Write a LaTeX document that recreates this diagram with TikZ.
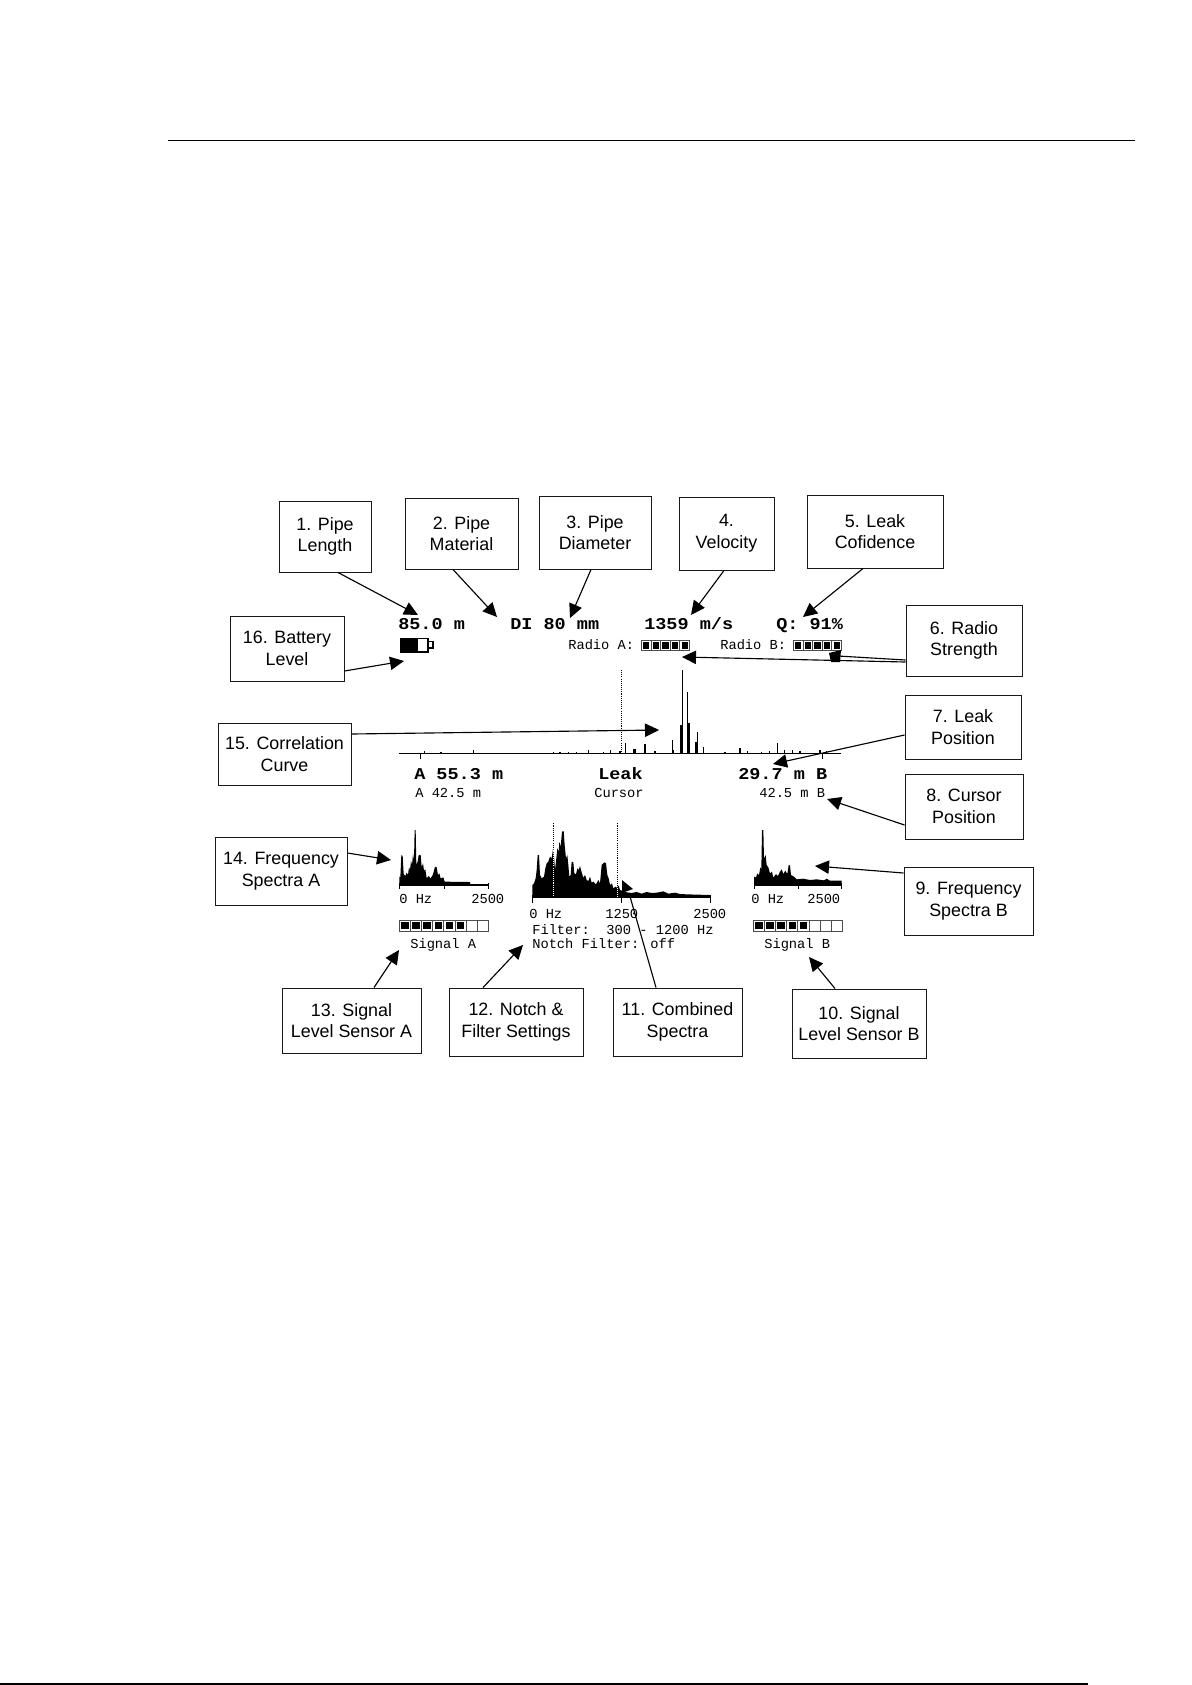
\documentclass[tikz,border=0pt]{standalone}
\usepackage{fontspec}
\usetikzlibrary{arrows.meta}
\setmainfont{Liberation Sans}
\newfontfamily\lcdb[FakeStretch=1.12,UprightFont=* Bold]{Liberation Mono}
\newfontfamily\lcdr{Liberation Mono}
\tikzset{
  boxlab/.style 2 args={draw=black!90,line width=.75pt,inner sep=0pt,align=center,
     minimum width=#1*.75pt,minimum height=#2*.75pt,
     font=\fontsize{13.4pt}{16.3pt}\selectfont},
  sx/.style={xshift=#1*.75pt},
  sy/.style={yshift=#1*.75pt},
  callout/.style={draw=black,line width=.85pt,-{Triangle[length=10.5pt,width=10pt]}},
  plain/.style={draw=black,line width=.85pt},
  big/.style={anchor=base west,inner sep=0pt,font=\lcdb\fontsize{12.4pt}{14pt}\selectfont},
  small/.style={anchor=base west,inner sep=0pt,font=\lcdr\fontsize{10.3pt}{12pt}\selectfont},
  axisline/.style={draw=black,line width=.75pt},
  dots/.style={line width=.75pt,dash pattern=on .8pt off .8pt},
}
\newcommand{\cellbar}[5]{% x0, y0, cell width, cells, filled
  \fill[black!70] (#1,#2) rectangle ++({#3*#4+1},11.5);
  \foreach \ci in {1,...,#4}{
    \fill[white] ({#1+1+(\ci-1)*#3},#2+1) rectangle ++({#3-1},9.5);
    \ifnum\ci>#5\relax\else
      \fill[black] ({#1+2.2+(\ci-1)*#3},#2+2.2) rectangle ++({#3-3.4},7.1);
    \fi
  }
}
\begin{document}
\begin{tikzpicture}[x=.75pt,y=-.75pt]
\useasboundingbox (0,0) rectangle (1192,1685);
\fill[white] (0,0) rectangle (1192,1685);
% page rules
\draw[black,line width=.9pt] (168,140.5) -- (1135,140.5);
\draw[black,line width=1.2pt] (0,1684.2) -- (1088,1684.2);

% callout boxes
\node[boxlab={92}{71}] (b1) at (325,536.5) {1. Pipe\\Length};
\node[boxlab={113}{71}] (b2) at (461.5,533.5) {2. Pipe\\Material};
\node[boxlab={112}{73}] (b3) at (595,532.5) {3. Pipe\\Diameter};
\node[boxlab={95}{73}] (b4) at (726.5,533.5) {4.\\Velocity};
\node[boxlab={136}{73}] (b5) at (875,531.5) {5. Leak\\Cofidence};
\node[boxlab={116}{71}] (b6) at (964,640.5) {6. Radio\\Strength};
\node[boxlab={116}{64}] (b7) at (963,727) {7. Leak\\Position};
\node[boxlab={118}{65}] (b8) at (964,806.5) {8. Cursor\\Position};
\node[boxlab={129}{68}] (b9) at (968.5,901) {9. Frequency\\Spectra B};
\node[boxlab={134}{69}] (b10) at (859,1023.5) {10. Signal\\Level Sensor B};
\node[boxlab={129}{68}] (b11) at (677.5,1022) {11. Combined\\Spectra};
\node[boxlab={134}{68}] (b12) at (516,1022) {12. Notch \&\\Filter Settings};
\node[boxlab={139}{65}] (b13) at (351.5,1020.5) {13. Signal\\Level Sensor A};
\node[boxlab={132}{68}] (b14) at (281,871) {14. Frequency\\Spectra A};
\node[boxlab={133}{62}] (b15) at (284.5,754) {15. Correlation\\Curve};
\node[boxlab={114}{65}] (b16) at (287,648.5) {16. Battery\\Level};

% readouts
\node[big] (t1) at (398,629) {85.0 m};
\node[big] (t2) at (510,629) {DI 80 mm};
\node[big] (t3) at (644,629) {1359 m/s};
\node[big] (t4) at (776,629) {Q: 91\%};
\node[small] (r1) at (568,649) {Radio A:};
\node[small] (r2) at (720,649) {Radio B:};
\node[big] (t5) at (414,779) {A 55.3 m};
\node[big] (t6) at (598,779) {Leak};
\node[big] (t7) at (738,779) {29.7 m B};
\node[small] (s1) at (415,797) {A 42.5 m};
\node[small] (s2) at (594,797) {Cursor};
\node[small] (s3) at (759,797) {42.5 m B};
\node[small] (f1) at (399,903) {0 Hz};
\node[small] (f2) at (471,903) {2500};
\node[small] (f3) at (529,918) {0 Hz};
\node[small] (f4) at (605,918) {1250};
\node[small] (f5) at (693,918) {2500};
\node[small] (f6) at (751,903) {0 Hz};
\node[small] (f7) at (807,903) {2500};
\node[small] (n1) at (532,934) {Filter:~~300 - 1200 Hz};
\node[small] (n2) at (532,948) {Notch Filter: off};
\node[small] (g1) at (410,948) {Signal A};
\node[small] (g2) at (764,948) {Signal B};

% radio and signal bars
\cellbar{641}{639.5}{9.6}{5}{5}
\cellbar{793}{639.5}{9.6}{5}{5}
\cellbar{399}{920}{11.1}{8}{6}
\cellbar{753}{920}{11.1}{8}{5}

% battery
\draw[black,line width=.8pt,fill=white] (401,638.5) rectangle (428,652);
\fill[black] (401,638.5) rectangle (418,652);
\draw[black,line width=.8pt,fill=white] (428,641.5) rectangle (433,648);

% correlation curve
\draw[axisline] (399,753) -- (841,753);
\draw[axisline] (420,753) -- (420,759);
\draw[axisline] (822,753) -- (822,759);
\draw[black,dots] (621,670) -- (621,753);
\begin{scope}[shift={(390,660)},x=.25pt,y=-.25pt]
  \foreach \px/\py in {103/274,153/275,250/271,490/275,510/276,535/275,560/275,595/270,640/275,662/270,690/272,795/273,1005/275,1072/273,1115/275,1138/272,1183/270,1208/270,1230/274,1290/271,1310/274}
    \draw[black,line width=1pt] (\px,280) -- (\px,\py);
  \draw[black,line width=1pt] (877,280) -- (877,30);
  \draw[black,line width=2pt] (874,280) -- (874,195);
  \draw[black,line width=1pt] (893,280) -- (893,97);
  \draw[black,line width=2pt] (896,280) -- (896,190);
  \draw[black,line width=1pt] (922,280) -- (922,217);
  \draw[black,line width=2pt] (919,280) -- (919,245);
  \draw[black,line width=1pt] (848,280) -- (848,240);
  \draw[black,line width=1.6pt] (849,280) -- (849,270);
  \draw[black,line width=1pt] (707,280) -- (707,250);
  \draw[black,line width=2pt] (733,280) -- (733,267);
  \draw[black,line width=1pt] (765,280) -- (765,253);
  \draw[black,line width=1pt] (940,280) -- (940,262);
  \draw[black,line width=1pt] (1050,280) -- (1050,265);
  \draw[black,line width=1pt] (1163,280) -- (1163,250);
\end{scope}

% spectrum A
\begin{scope}[shift={(210,780)},x=.25pt,y=-.25pt]
  \fill[black] (568,315) -- (568,290) -- (571,292) -- (574,225) -- (578,228) -- (581,282) -- (586,288) -- (590,278) -- (594,285) -- (597,262) -- (600,270) -- (603,243) -- (606,255) -- (609,222) -- (612,240) -- (614,150) -- (617,150) -- (619,255) -- (623,245) -- (626,225) -- (632,225) -- (635,262) -- (639,250) -- (642,272) -- (646,268) -- (650,295) -- (656,288) -- (662,295) -- (668,285) -- (672,272) -- (675,260) -- (680,262) -- (684,285) -- (688,280) -- (692,295) -- (700,292) -- (704,305) -- (780,306) -- (781,312) -- (835,312) -- (835,315) -- cycle;
  \draw[axisline] (568,315) -- (835,315);
  \foreach \px in {568,702,835} \draw[axisline] (\px,310) -- (\px,326);
\end{scope}

% spectrum B
\begin{scope}[shift={(600,780)},x=.25pt,y=-.25pt]
  \fill[black] (462,315) -- (462,290) -- (468,292) -- (472,280) -- (477,285) -- (481,262) -- (484,268) -- (486,150) -- (490,150) -- (492,235) -- (497,225) -- (500,255) -- (505,262) -- (510,280) -- (516,275) -- (520,293) -- (528,282) -- (534,288) -- (540,275) -- (545,268) -- (550,282) -- (556,272) -- (562,282) -- (566,255) -- (570,256) -- (573,285) -- (582,290) -- (590,298) -- (610,296) -- (630,300) -- (650,298) -- (672,301) -- (680,296) -- (690,302) -- (725,302) -- (725,315) -- cycle;
  \draw[axisline] (462,315) -- (725,315);
  \foreach \px in {462,596,725} \draw[axisline] (\px,310) -- (\px,326);
\end{scope}

% combined spectrum
\begin{scope}[shift={(520,815)},x=.25pt,y=-.25pt]
  \draw[black,dots] (100,25) -- (100,100);
  \draw[black,dots] (292,25) -- (292,218);
  \fill[black] (37,247) -- (37,210) -- (42,205) -- (47,190) -- (50,165) -- (53,120) -- (57,120) -- (60,180) -- (65,190) -- (72,185) -- (76,160) -- (80,145) -- (85,140) -- (90,125) -- (95,130) -- (100,95) -- (105,165) -- (109,130) -- (112,100) -- (116,110) -- (118,80) -- (122,95) -- (126,50) -- (131,48) -- (134,90) -- (138,130) -- (142,120) -- (145,150) -- (148,185) -- (152,180) -- (155,140) -- (160,142) -- (163,175) -- (168,178) -- (172,160) -- (176,165) -- (180,153) -- (185,172) -- (190,188) -- (195,180) -- (200,195) -- (205,198) -- (210,185) -- (215,203) -- (220,200) -- (228,208) -- (235,195) -- (240,205) -- (245,150) -- (250,145) -- (254,142) -- (258,145) -- (262,180) -- (266,190) -- (270,210) -- (276,205) -- (280,220) -- (286,215) -- (290,218) -- (296,212) -- (300,225) -- (320,232) -- (335,234) -- (350,231) -- (365,236) -- (380,231) -- (395,234) -- (410,233) -- (430,229) -- (445,236) -- (465,233) -- (480,237) -- (500,238) -- (570,240) -- (570,247) -- cycle;
  \draw[white,dots] (100,100) -- (100,247);
  \draw[white,dots] (292,218) -- (292,247);
  \draw[axisline] (37,247) -- (570,247);
  \foreach \px in {37,303,570} \draw[axisline] (\px,240) -- (\px,263);
\end{scope}

% callout targets
\coordinate (c1) at (418,615);
\coordinate (c2) at (497,617);
\coordinate (c3) at (570,618);
\coordinate (c4) at (691,615);
\coordinate (c5) at (803,617);
\coordinate (c6) at (682,657);
\coordinate (c6b) at (838,656);
\coordinate (c7) at (773,764);
\coordinate (c8) at (827,799);
\coordinate (c9) at (815,866);
\coordinate (c10) at (809,957);
\coordinate (c11) at (629,893);
\coordinate (c12) at (523,945);
\coordinate (c13) at (399,950);
\coordinate (c14) at (391,860);
\coordinate (c15) at (659,730);
\coordinate (c16) at (404,661);

\draw[callout] ([sx=13]b1.south) -- (c1);
\draw[callout] ([sx=-8.5]b2.south) -- (c2);
\draw[callout] ([sx=-4]b3.south) -- (c3);
\draw[callout] ([sx=-2.5]b4.south) -- (c4);
\draw[callout] ([sx=-12]b5.south) -- (c5);
\draw[callout] ([sy=-21.5]b6.west) -- (c6);
\draw[plain] ([sy=-19.5]b6.west) -- (c6b);
\fill[black] (829,653) -- (841,650) -- (840,662) -- (831,662) -- cycle;
\draw[callout] ([sy=-8]b7.west) -- (c7);
\draw[callout] ([sy=-18.5]b8.west) -- (c8);
\draw[callout] ([sy=28]b9.west) -- (c9);
\draw[callout] ([sx=-24]b10.north) -- (c10);
\draw[plain] ([sx=-21.5]b11.north) -- (c11);
\fill[black] (622,880) -- (633,889) -- (622,893) -- cycle;
\draw[callout] ([sx=-33]b12.north) -- (c12);
\draw[callout] ([sx=22.5]b13.north) -- (c13);
\draw[callout] ([sy=18]b14.east) -- (c14);
\draw[callout] ([sy=20]b15.east) -- (c15);
\draw[callout] ([sy=-22.5]b16.east) -- (c16);
\end{tikzpicture}
\end{document}
